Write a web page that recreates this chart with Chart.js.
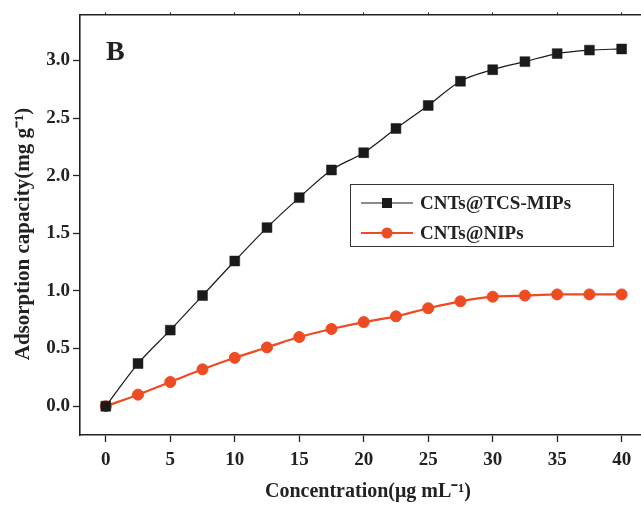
<!DOCTYPE html>
<html>
<head>
<meta charset="utf-8">
<script src="https://cdn.jsdelivr.net/npm/chart.js@4.4.0/dist/chart.umd.min.js"></script>
<style>
  html, body { margin: 0; padding: 0; background: #fff; overflow: hidden; }
</style>
</head>
<body>
<canvas id="adsChart" width="641" height="505"></canvas>
<script>
// adsorption capacity vs. initial concentration
const concentration = [0, 2.5, 5, 7.5, 10, 12.5, 15, 17.5, 20, 22.5, 25, 27.5, 30, 32.5, 35, 37.5, 40];
const mipCapacity = [0, 0.37, 0.66, 0.96, 1.26, 1.55, 1.81, 2.05, 2.20, 2.41, 2.61, 2.82, 2.92, 2.99, 3.06, 3.09, 3.10];
const nipCapacity = [0, 0.10, 0.21, 0.32, 0.42, 0.51, 0.60, 0.67, 0.73, 0.78, 0.85, 0.91, 0.95, 0.96, 0.97, 0.97, 0.97];
const seriesNames = ['CNTs@TCS-MIPs', 'CNTs@NIPs'];
const xTicks = [0, 5, 10, 15, 20, 25, 30, 35, 40];
const yTicks = [0, 0.5, 1.0, 1.5, 2.0, 2.5, 3.0];
const xTitle = 'Concentration(μg mL⁻¹)';
const yTitle = 'Adsorption capacity(mg g⁻¹)';

const INK = '#222';
const ORANGE = '#ef4b23';
const serif = 'Liberation Serif, Times New Roman, serif';

const toPoints = ys => concentration.map((x, i) => ({ x: x, y: ys[i] }));

// the plot runs right up to the canvas edge, so no extra room for the last label
const noSidePadding = s => { s.paddingLeft = 0; s.paddingRight = 0; };

// legend box, panel letter and axis titles
const annotations = {
  id: 'annotations',
  afterDatasetsDraw(chart) {
    const ctx = chart.ctx;
    ctx.save();
    ctx.strokeStyle = '#333';
    ctx.lineWidth = 1;
    ctx.strokeRect(350.5, 184.5, 263, 62);
    ctx.font = 'bold 19px ' + serif;
    ctx.textBaseline = 'middle';
    chart.data.datasets.forEach((ds, i) => {
      const y = 203 + i * 30;
      ctx.strokeStyle = ds.borderColor;
      ctx.lineWidth = ds.borderWidth;
      ctx.beginPath();
      ctx.moveTo(361, y);
      ctx.lineTo(413, y);
      ctx.stroke();
      ctx.fillStyle = ds.pointBackgroundColor;
      if (ds.pointStyle === 'rect') {
        ctx.fillRect(382, y - 5, 10, 10);
      } else {
        ctx.beginPath();
        ctx.arc(387, y, 5.5, 0, Math.PI * 2);
        ctx.fill();
      }
      ctx.fillStyle = INK;
      ctx.fillText(ds.label, 420, y + 1);
    });

    ctx.font = 'bold 28px ' + serif;
    ctx.textBaseline = 'alphabetic';
    ctx.fillText('B', 106, 60);

    ctx.font = 'bold 20px ' + serif;
    ctx.textAlign = 'center';
    ctx.textBaseline = 'middle';
    ctx.fillText(xTitle, 368, 492);
    ctx.font = 'bold 21px ' + serif;
    ctx.translate(24, 234);
    ctx.rotate(-Math.PI / 2);
    ctx.fillText(yTitle, 0, 0);
    ctx.restore();
  }
};

new Chart(document.getElementById('adsChart'), {
  type: 'line',
  data: {
    datasets: [{
      label: seriesNames[0],
      data: toPoints(mipCapacity),
      borderColor: '#1a1a1a',
      borderWidth: 1.2,
      pointStyle: 'rect',
      pointRadius: 7,
      pointBorderWidth: 0.5,
      pointBackgroundColor: '#1a1a1a',
      pointBorderColor: '#1a1a1a',
      cubicInterpolationMode: 'monotone'
    }, {
      label: seriesNames[1],
      data: toPoints(nipCapacity),
      borderColor: ORANGE,
      borderWidth: 2.2,
      pointStyle: 'circle',
      pointRadius: 5.5,
      pointBorderWidth: 1,
      pointBackgroundColor: ORANGE,
      pointBorderColor: ORANGE,
      cubicInterpolationMode: 'monotone'
    }]
  },
  options: {
    responsive: false,
    animation: false,
    layout: { autoPadding: false, padding: { left: 12, top: 0, right: 0, bottom: 0 } },
    plugins: { legend: { display: false }, tooltip: { enabled: false } },
    scales: {
      x: {
        type: 'linear',
        position: 'bottom',
        min: -2,
        max: 41.5,
        afterBuildTicks: s => { s.ticks = xTicks.map(v => ({ value: v })); },
        afterFit: s => { s.height = 70; noSidePadding(s); },
        ticks: { color: INK, font: { family: serif, size: 19, weight: 'bold' }, padding: 7, maxRotation: 0, autoSkip: false },
        grid: { drawOnChartArea: false, drawTicks: true, tickLength: 7, tickWidth: 1.3, tickColor: INK },
        border: { display: true, color: INK, width: 1.6 }
      },
      xTop: {
        type: 'linear',
        position: 'top',
        min: -2,
        max: 41.5,
        afterBuildTicks: s => { s.ticks = xTicks.map(v => ({ value: v })); },
        afterFit: s => { s.height = 13; noSidePadding(s); },
        ticks: { display: false },
        grid: { drawOnChartArea: false, drawTicks: true, tickLength: 2, tickWidth: 1, tickColor: INK },
        border: { display: true, color: INK, width: 1.6 }
      },
      y: {
        type: 'linear',
        position: 'left',
        min: -0.25,
        max: 3.4,
        afterBuildTicks: s => { s.ticks = yTicks.map(v => ({ value: v })); },
        afterFit: s => { s.width = 68; },
        ticks: { color: INK, font: { family: serif, size: 19, weight: 'bold' }, padding: 3, callback: v => v.toFixed(1) },
        grid: { drawOnChartArea: false, drawTicks: true, tickLength: 7, tickWidth: 1.3, tickColor: INK },
        border: { display: true, color: INK, width: 1.6 }
      }
    }
  },
  plugins: [annotations]
});
</script>
</body>
</html>
